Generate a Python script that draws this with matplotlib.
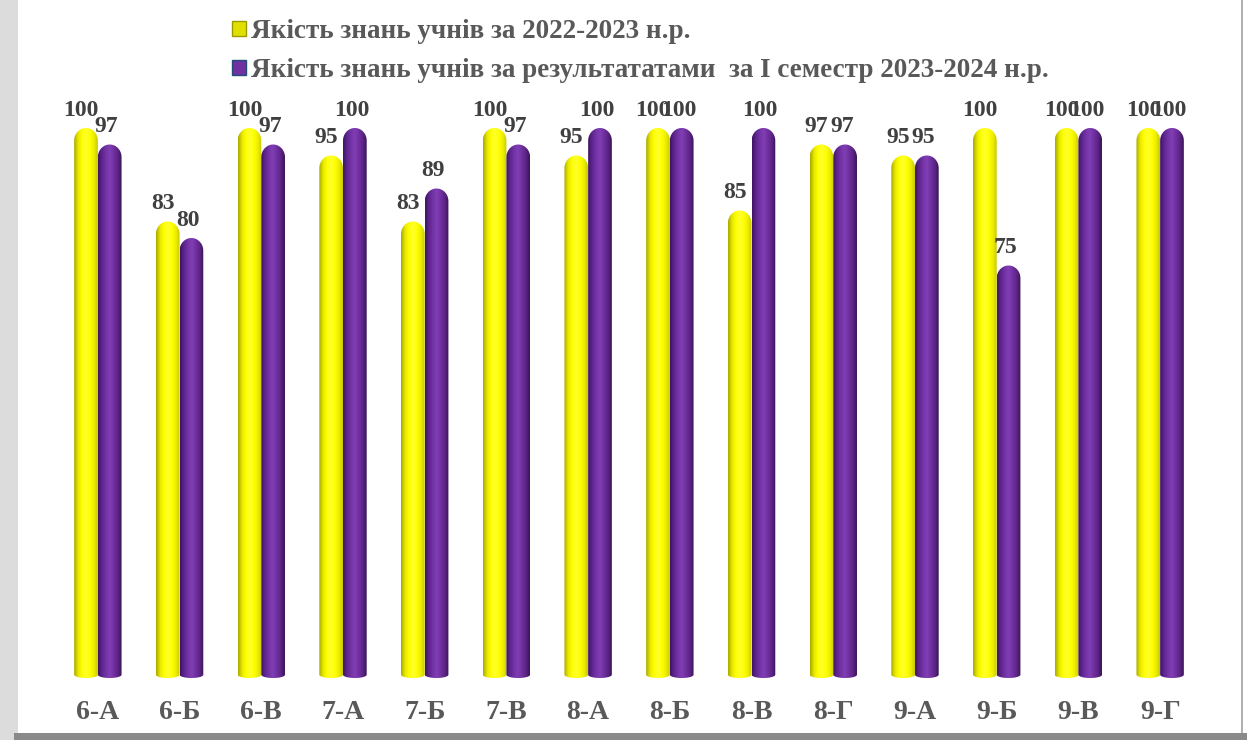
import numpy as np
import matplotlib
matplotlib.use("Agg")
import matplotlib.pyplot as plt
from matplotlib.patches import PathPatch, Rectangle, Patch
from matplotlib.path import Path
from matplotlib.colors import LinearSegmentedColormap

plt.rcParams['font.family'] = ['Liberation Serif', 'DejaVu Serif']
plt.rcParams['font.weight'] = 'bold'

classes = ['6-А', '6-Б', '6-В', '7-А', '7-Б', '7-В', '8-А',
           '8-Б', '8-В', '8-Г', '9-А', '9-Б', '9-В', '9-Г']
quality_2022 = [100, 83, 100, 95, 83, 100, 95, 100, 85, 97, 95, 100, 100, 100]
quality_2023_sem1 = [97, 80, 97, 100, 89, 97, 100, 100, 100, 97, 95, 75, 100, 100]
series_names = ['Якість знань учнів за 2022-2023 н.р.',
                'Якість знань учнів за результататами  за І семестр 2023-2024 н.р.']

yellow_cm = LinearSegmentedColormap.from_list(
    'cyl_y', ['#a8a800', '#e8e800', '#ffff00', '#ffff30', '#ffff00', '#eeee00', '#c8c800'])
purple_cm = LinearSegmentedColormap.from_list(
    'cyl_p', ['#3e1560', '#5f2590', '#7433a6', '#8040b4', '#7030a0', '#5c2585', '#3a1458'])

fig = plt.figure(figsize=(12.47, 7.40), dpi=100)
fig.patch.set_facecolor('white')

# frame like the original slide border
fig.patches.append(Rectangle((0, 0), 18 / 1247, 1, transform=fig.transFigure,
                             facecolor='#dcdcdc', edgecolor='none', zorder=0))
fig.patches.append(Rectangle((14 / 1247, 0), 1, 7 / 740, transform=fig.transFigure,
                             facecolor='#8a8a8a', edgecolor='none', zorder=0))
fig.patches.append(Rectangle((1241 / 1247, 7 / 740), 2 / 1247, 1, transform=fig.transFigure,
                             facecolor='#b0b0b0', edgecolor='none', zorder=0))

ax = fig.add_axes([57 / 1247, 62 / 740, 1144 / 1247, 605 / 740])
for s in ax.spines.values():
    s.set_visible(False)
ax.set_yticks([])
ax.set_xticks(range(len(classes)))
ax.set_xticklabels(classes, fontsize=20, color='#595959', fontweight='bold')
ax.tick_params(axis='x', length=0, pad=16)

bar_w = 0.29
cap = 2.3   # dome height in data units
bot = 0.6   # bottom curvature


def cylinder(x0, w, h, cmap):
    t = np.linspace(0, np.pi, 30)
    cx = x0 + w / 2
    top_y = h - cap
    verts = [(x0, bot)]
    verts.append((x0, top_y))
    verts += [(cx - (w / 2) * np.cos(a), top_y + cap * np.sin(a)) for a in t]
    verts.append((x0 + w, bot))
    verts += [(cx + (w / 2) * np.cos(a), bot - bot * np.sin(a)) for a in t]
    verts.append((x0, bot))
    codes = [Path.MOVETO] + [Path.LINETO] * (len(verts) - 2) + [Path.CLOSEPOLY]
    patch = PathPatch(Path(verts, codes), facecolor='none', edgecolor='none')
    ax.add_patch(patch)
    grad = np.linspace(0, 1, 64).reshape(1, -1)
    im = ax.imshow(grad, cmap=cmap, aspect='auto', extent=(x0, x0 + w, 0, h),
                   interpolation='bicubic', zorder=2)
    im.set_clip_path(patch)


x = np.arange(len(classes))
for i in range(len(classes)):
    cylinder(x[i] - bar_w, bar_w, quality_2022[i], yellow_cm)
    cylinder(x[i], bar_w, quality_2023_sem1[i], purple_cm)
    ax.text(x[i] - bar_w / 2 - 0.06, quality_2022[i] + 1.3, str(quality_2022[i]),
            ha='center', va='bottom', fontsize=17, color='#404040', fontweight='bold')
    ax.text(x[i] + bar_w / 2 - 0.04, quality_2023_sem1[i] + 1.3, str(quality_2023_sem1[i]),
            ha='center', va='bottom', fontsize=17, color='#404040', fontweight='bold')

ax.set_xlim(-0.5, len(classes) - 0.5)
ax.set_ylim(0, 110)

handles = [Patch(facecolor='#e0e000', edgecolor='#9a9a00'),
           Patch(facecolor='#7030a0', edgecolor='#1f4e79')]
fig.legend(handles, series_names, loc='upper left',
           bbox_to_anchor=(208 / 1247, 1 + 5 / 740), frameon=False,
           prop={'family': 'Liberation Serif', 'weight': 'bold', 'size': 19.5},
           labelcolor='#595959', handlelength=0.5, handleheight=0.5,
           handletextpad=0.2, labelspacing=0.5)

fig.savefig('out.png', dpi=100)
